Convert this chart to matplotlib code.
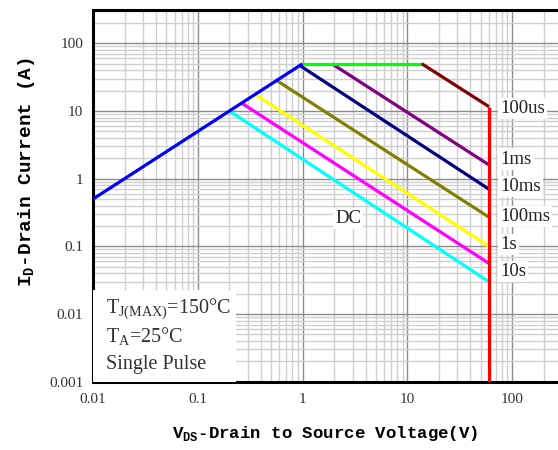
import numpy as np
import matplotlib.pyplot as plt
from matplotlib.ticker import LogLocator, FixedLocator, FixedFormatter, NullFormatter

# Safe operating area data (V, A)
limit_v = [0.01, 1.0, 13.7, 60.0, 60.0]
limit_i = [0.5, 50.0, 50.0, 11.6, 0.001]

pulse_names = ["1ms", "10ms", "100ms", "1s", "10s", "DC"]
pulse_start_v = [1.9, 0.94, 0.57, 0.354, 0.264, 0.2]
pulse_start_i = [50.0, 47.0, 28.0, 17.5, 13.0, 10.0]
pulse_end_v = [60.0, 60.0, 60.0, 60.0, 60.0, 60.0]
pulse_end_i = [1.6, 0.70, 0.27, 0.10, 0.056, 0.030]
pulse_colors = ["#800080", "#000080", "#808000", "#ffff00", "#ff00ff", "#00ffff"]

# label text and where it sits (V, A)
label_text = ["100us", "1ms", "10ms", "100ms", "1s", "10s"]
label_i = [11.0, 1.95, 0.76, 0.275, 0.105, 0.042]

x_ticks = [0.01, 0.1, 1, 10, 100]
x_labels = ["0.01", "0.1", "1", "10", "100"]
y_ticks = [0.001, 0.01, 0.1, 1, 10, 100]
y_labels = ["0.001", "0.01", "0.1", "1", "10", "100"]

serif = "Liberation Serif"
mono = "Liberation Mono"

fig = plt.figure(figsize=(5.58, 4.5), dpi=100)
ax = fig.add_axes([93 / 558, 1 - 381.7 / 450, 471.6 / 558, 372.2 / 450])
ax.set_xscale("log")
ax.set_yscale("log")
ax.set_xlim(0.01, 10 ** 2.5)
ax.set_ylim(0.001, 10 ** 2.5)

# grid
for axis in (ax.xaxis, ax.yaxis):
    axis.set_minor_locator(LogLocator(base=10, subs=np.arange(2, 10), numticks=20))
    axis.set_minor_formatter(NullFormatter())
ax.grid(which="major", color="#8c8c8c", linewidth=1.0)
ax.grid(which="minor", color="#cfcfcf", linewidth=1.0)
ax.set_axisbelow(True)

# pulse lines
for name, v0, i0, v1, i1, c in zip(pulse_names, pulse_start_v, pulse_start_i,
                                   pulse_end_v, pulse_end_i, pulse_colors):
    ax.plot([v0, v1], [i0, i1], color=c, linewidth=2.3, solid_capstyle="butt", zorder=3)

# outer limit: blue rise, green current limit, dark red power limit, red voltage limit
seg_colors = ["#0000ff", "#00ff00", "#800000", "#ff0000"]
for k, c in enumerate(seg_colors):
    ax.plot(limit_v[k:k + 2], limit_i[k:k + 2], color=c, linewidth=2.3,
            solid_capstyle="butt", zorder=4)

# curve labels
box = dict(facecolor="white", edgecolor="none", pad=1.5)
lab_kw = dict(fontsize=13.5, family=serif, color="#222222", va="center", bbox=box, zorder=5)
for txt, yi in zip(label_text, label_i):
    ax.text(77, yi, txt, ha="left", **lab_kw)
ax.text(2.73, 0.26, "DC", ha="center", **lab_kw)

# conditions box
ax.add_patch(plt.Rectangle((0, 0), (236 - 93) / 471.6, (381.7 - 290) / 372.2,
                           transform=ax.transAxes, facecolor="white",
                           edgecolor="none", zorder=5))
cond_kw = dict(transform=ax.transAxes, fontsize=14.5, family=serif, color="#333333",
               va="center", ha="left", zorder=6)
ax.text(13 / 471.6, (381.7 - 309) / 372.2, r"T$_\mathregular{J(MAX)}$=150°C", **cond_kw)
ax.text(13 / 471.6, (381.7 - 337) / 372.2, r"T$_\mathregular{A}$=25°C", **cond_kw)
ax.text(13 / 471.6, (381.7 - 364) / 372.2, "Single Pulse", **cond_kw)

# ticks
ax.xaxis.set_major_locator(FixedLocator(x_ticks))
ax.xaxis.set_major_formatter(FixedFormatter(x_labels))
ax.yaxis.set_major_locator(FixedLocator(y_ticks))
ax.yaxis.set_major_formatter(FixedFormatter(y_labels))
ax.tick_params(which="both", length=0)
ax.tick_params(which="minor", labelbottom=False, labelleft=False)
ax.tick_params(axis="x", which="major", pad=8)
ax.tick_params(axis="y", which="major", pad=7)
for lab in ax.get_xticklabels() + ax.get_yticklabels():
    lab.set_family(serif)
    lab.set_fontsize(11)
    lab.set_color("#333333")

for s in ax.spines.values():
    s.set_linewidth(2.2)
    s.set_color("black")

ax.set_xlabel(r"V$_\mathregular{DS}$-Drain to Source Voltage(V)", family=mono,
              fontweight="bold", fontsize=12.5)
ax.set_ylabel(r"I$_\mathregular{D}$-Drain Current (A)", family=mono,
              fontweight="bold", fontsize=14)
ax.xaxis.set_label_coords((325 - 93) / 471.6, -(424 - 381.7) / 372.2)
ax.yaxis.set_label_coords(-(93 - 37) / 471.6, (381.7 - 172) / 372.2)

fig.savefig("out.png", dpi=100)
